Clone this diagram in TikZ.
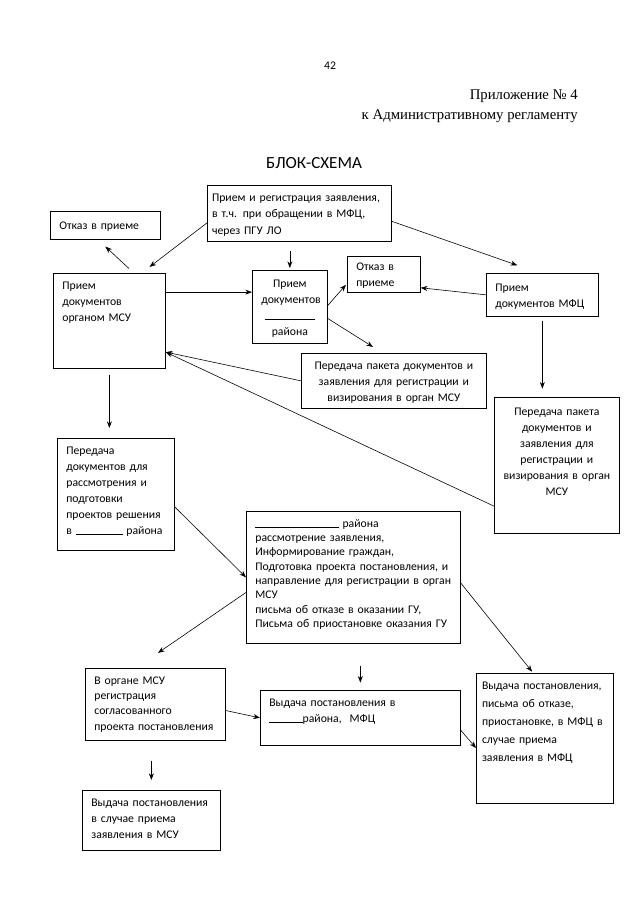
\documentclass[tikz,border=0pt]{standalone}
\usepackage{fontspec}
\setmainfont{Carlito}
\newfontfamily\serifru{Liberation Serif}
\usetikzlibrary{arrows.meta}

\newcommand{\fillin}[1]{\rule[-0.1ex]{#1}{0.4pt}}

\tikzset{
  box/.style={draw, line width=0.6pt, anchor=north west, align=left,
    inner xsep=0.27cm, inner ysep=0.15cm, text height=0.33cm,
    font=\fontsize{10}{13.6}\selectfont},
  arr/.style={-{Stealth[length=2mm,width=1.5mm]}, line width=0.5pt},
}

\begin{document}
\begin{tikzpicture}[x=0.03cm, y=-0.03cm]
    \useasboundingbox (0,0) rectangle (640,905);
    % heading
    \node[font=\fontsize{10}{12}\selectfont] (pnum) at (330,66) {42};
    \node[anchor=east, font=\serifru\fontsize{12.6}{15}\selectfont] (app) at (582,96) {Приложение №~4};
    \node[anchor=east, font=\serifru\fontsize{12.6}{15}\selectfont] (reg) at (582,116) {к Административному регламенту};
    \node[font=\fontsize{14.5}{16}\selectfont] (title) at (314,163) {БЛОК-СХЕМА};

    % boxes
    \node[box, text width=5.24cm, inner xsep=0.14cm, minimum height=1.65cm, font=\fontsize{10}{14}\selectfont] (a) at (207,185)
      {Прием и регистрация заявления,\\ в т.ч. при обращении в МФЦ,\\ через ПГУ ЛО};
    \node[box, text width=2.76cm, minimum height=0.84cm] (b) at (50,211) {Отказ в приеме};
    \node[box, text width=2.82cm, text depth=2.22cm] (c) at (53,273) {Прием\\ документов\\ органом МСУ};
    \node[box, align=center, text width=1.71cm, minimum height=2.19cm] (d) at (252,270)
      {Прием\\ документов\\ \fillin{1.5cm}\\ района};
    \node[box, text width=1.65cm, minimum height=1.08cm, inner ysep=0.1cm] (e) at (347,256) {Отказ в\\ приеме};
    \node[box, text width=2.82cm, minimum height=1.29cm] (f) at (486,273) {Прием\\ документов МФЦ};
    \node[box, align=center, text width=5.01cm, minimum height=1.65cm] (g) at (301,353)
      {Передача пакета документов и\\ заявления для регистрации и\\ визирования в орган МСУ};
    \node[box, align=center, text width=3.21cm, text height=0.4cm, text depth=3.38cm] (h) at (494,397)
      {Передача пакета\\ документов и\\ заявления для\\ регистрации и\\ визирования в орган\\ МСУ};
    \node[box, text width=2.97cm, text depth=2.73cm] (i) at (57,438)
      {Передача\\ документов для\\ рассмотрения и\\ подготовки\\ проектов решения\\ в \fillin{1.4cm} района};
    \node[box, text width=5.88cm, text depth=3.33cm, font=\fontsize{10}{12.2}\selectfont] (j) at (246,511)
      {\fillin{2.5cm} района\\ рассмотрение заявления,\\ Информирование граждан,\\
       Подготовка проекта постановления, и\\ направление для регистрации в орган\\ МСУ\\
       письма об отказе в оказании ГУ,\\ Письма об приостановке оказания ГУ};
    \node[box, text width=3.66cm, text depth=1.53cm, font=\fontsize{10}{13}\selectfont] (k) at (85,668)
      {В органе МСУ\\ регистрация\\ согласованного\\ проекта постановления};
    \node[box, text width=5.46cm, text depth=1.02cm] (l) at (260,690)
      {Выдача постановления в\\ \fillin{1cm}района,~ МФЦ};
    \node[box, text width=3.76cm, inner xsep=0.17cm, text depth=3.27cm, font=\fontsize{10}{15.5}\selectfont] (m) at (476,673)
      {Выдача постановления,\\ письма об отказе,\\ приостановке, в МФЦ в\\ случае приема\\ заявления в МФЦ};
    \node[box, text width=3.6cm, text depth=1.17cm] (n) at (82,790)
      {Выдача постановления\\ в случае приема\\ заявления в МСУ};

    % connectors
    \draw[arr, shorten >=0.3cm] (a.186) -- (c.56);
    \draw[arr, shorten <=0.2cm, shorten >=0.3cm] (c.63) -- (b.243);
    \draw[arr, shorten <=0.3cm, shorten >=0.06cm] (a.south -| d.north) -- (d.north);
    \draw[arr, shorten >=0.7cm] (a.355) -- (f.98);
    \draw[arr] (c.27) -- (c.27 -| d.west);
    \draw[arr, shorten >=0.05cm] (d.2) -- (e.194);
    \draw[arr] (f.west) -- (e.340);
    \draw[arr, shorten >=0.34cm] (d.343) -- (g.112);
    \draw[arr, shorten <=0.12cm, shorten >=0.25cm] (f.south) -- (f.south |- h.north);
    \draw[arr] (g.west) -- (c.331);
    \draw[arr] (h.213) -- (c.331);
    \draw[arr, shorten <=0.18cm, shorten >=0.3cm] (c.south) -- (c.south |- i.north);
    \draw[arr] (i.348) -- (j.west);
    \draw[arr, shorten >=0.8cm] (j.188) -- (k.118);
    \draw[arr, shorten >=0.05cm] (j.357) -- (m.100);
    \draw[arr, shorten <=0.66cm, shorten >=0.22cm] (l.north |- j.south) -- (l.north);
    \draw[arr] (k.355) -- (l.west);
    \draw[arr] (l.353) -- (m.188);
    \draw[arr, shorten <=0.6cm, shorten >=0.3cm] (n.north |- k.south) -- (n.north);
\end{tikzpicture}
\end{document}
